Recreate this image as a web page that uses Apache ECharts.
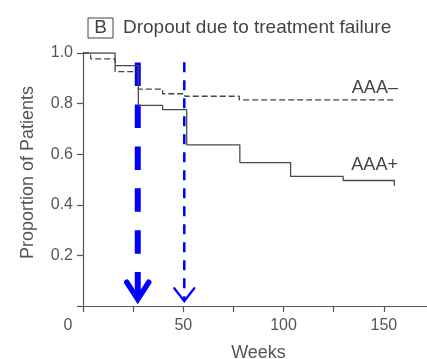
<!DOCTYPE html>
<html>
<head>
<meta charset="utf-8">
<script src="https://cdn.jsdelivr.net/npm/echarts@6/dist/echarts.min.js"></script>
<style>
  html, body { margin: 0; padding: 0; background: #fff; }
  #chart { width: 427px; height: 359px; }
</style>
</head>
<body>
<div id="chart"></div>
<script>
// AAA+ (solid) step curve: week of each step, proportion after the step
var weeksPos = [0, 16, 27.6, 39.7, 51.7, 78.2, 103.5, 129.7, 155.2, 155.2];
var survPos  = [1.0, 0.950, 0.793, 0.776, 0.637, 0.567, 0.512, 0.496, 0.496, 0.475];
// AAA- (dashed) step curve
var weeksNeg = [0, 3.8, 16, 27.6, 39.7, 50.8, 77.9, 155.6];
var survNeg  = [1.0, 0.977, 0.926, 0.857, 0.839, 0.829, 0.815, 0.815];
// blue arrows: week, start proportion, tip proportion
var arrowWeeks = [27.3, 50.5];
var arrowFrom  = [0.962, 0.963];
var arrowTo    = [0.011, 0.011];
var yTicks = [0.2, 0.4, 0.6, 0.8, 1.0];

function zip(a, b) {
  var out = [];
  for (var i = 0; i < a.length; i++) out.push([a[i], b[i]]);
  return out;
}

var font = '"Liberation Sans", Arial, Helvetica, sans-serif';
var grey = '#555';

var chart = echarts.init(document.getElementById('chart'));
var option = {
  animation: false,
  title: {
    text: '{b|B}{t|Dropout due to treatment failure}',
    left: 83,
    top: 13,
    textStyle: {
      fontWeight: 'normal',
      rich: {
        b: { fontFamily: font, fontSize: 19, fontWeight: 'normal', color: '#444', width: 25, height: 20, lineHeight: 20,
             align: 'center', borderColor: '#444', borderWidth: 1 },
        t: { fontFamily: font, fontSize: 19, fontWeight: 'normal', color: '#444', padding: [0, 0, 0, 10] }
      }
    }
  },
  grid: { left: 83, top: 53, width: 351, height: 253, containLabel: false, outerBoundsMode: 'none' },
  xAxis: {
    type: 'value',
    min: 0,
    max: 175,
    interval: 25,
    name: 'Weeks',
    nameLocation: 'middle',
    nameGap: 38,
    nameTextStyle: { fontFamily: font, fontSize: 18, color: grey },
    axisLine: { lineStyle: { color: grey, width: 1.2 } },
    axisTick: { length: 6, lineStyle: { color: grey, width: 1.2 } },
    splitLine: { show: false },
    axisLabel: {
      margin: 12,
      fontFamily: font, fontSize: 16, color: grey,
      formatter: function (v) {
        if (v === 0) return '{z|0}';
        return v % 50 === 0 ? String(v) : '';
      },
      rich: { z: { fontFamily: font, fontSize: 16, color: grey, padding: [0, 30, 0, 0] } }
    }
  },
  yAxis: {
    type: 'value',
    min: 0,
    max: 1,
    interval: 0.2,
    name: 'Proportion of Patients',
    nameLocation: 'middle',
    nameRotate: 90,
    nameGap: 46,
    nameTextStyle: { fontFamily: font, fontSize: 18, color: grey, padding: [0, 0, 0, 14] },
    axisLine: { show: true, lineStyle: { color: grey, width: 1.2 } },
    axisTick: { show: true, length: 6, lineStyle: { color: grey, width: 1.2 } },
    splitLine: { show: false },
    axisLabel: {
      margin: 10,
      fontFamily: font, fontSize: 16, color: grey,
      formatter: function (v) {
        return yTicks.indexOf(Math.round(v * 10) / 10) >= 0 ? v.toFixed(1) : '';
      }
    }
  },
  series: [
    {
      name: 'AAA+',
      type: 'line',
      step: 'end',
      symbol: 'none',
      data: zip(weeksPos, survPos),
      lineStyle: { color: '#4a4a4a', width: 1.3 },
      markPoint: {
        symbolSize: 0,
        data: [{ coord: [157, 0.558], value: 'AAA+' }],
        label: { show: true, position: [0, 0], align: 'right', verticalAlign: 'middle',
                 formatter: 'AAA+', fontFamily: font, fontSize: 18, color: '#444' }
      }
    },
    {
      name: 'AAA-',
      type: 'line',
      step: 'end',
      symbol: 'none',
      data: zip(weeksNeg, survNeg),
      lineStyle: { color: '#444', width: 1.3, type: [6, 3] },
      markPoint: {
        symbolSize: 0,
        data: [{ coord: [157, 0.861], value: 'AAA\u2013' }],
        label: { show: true, position: [0, 0], align: 'right', verticalAlign: 'middle',
                 formatter: 'AAA\u2013', fontFamily: font, fontSize: 18, color: '#444' }
      }
    },
    {
      type: 'custom',
      clip: false,
      data: arrowWeeks.map(function (w, i) { return [w, arrowFrom[i], arrowTo[i], i]; }),
      renderItem: function (params, api) {
        var top = api.coord([api.value(0), api.value(1)]);
        var tip = api.coord([api.value(0), api.value(2)]);
        var thick = api.value(3) === 0;
        var lw = thick ? 5.5 : 2.3;
        var hw = thick ? 11 : 10;
        var hh = thick ? 21 : 15;
        var off = thick ? 4 : 2;
        return {
          type: 'group',
          children: [
            {
              type: 'line',
              shape: { x1: top[0], y1: top[1], x2: tip[0], y2: tip[1] - off },
              style: { stroke: '#0000ff', lineWidth: thick ? 6 : 2.5,
                       lineDash: thick ? [23.5, 18.4] : [10, 8] }
            },
            {
              type: 'polyline',
              shape: { points: [[tip[0] - hw, tip[1] - hh], [tip[0], tip[1] - off], [tip[0] + hw, tip[1] - hh]] },
              style: { stroke: '#0000ff', fill: null, lineWidth: lw, lineCap: 'round', lineJoin: 'miter' }
            }
          ]
        };
      }
    }
  ]
};
chart.setOption(option);
</script>
</body>
</html>
